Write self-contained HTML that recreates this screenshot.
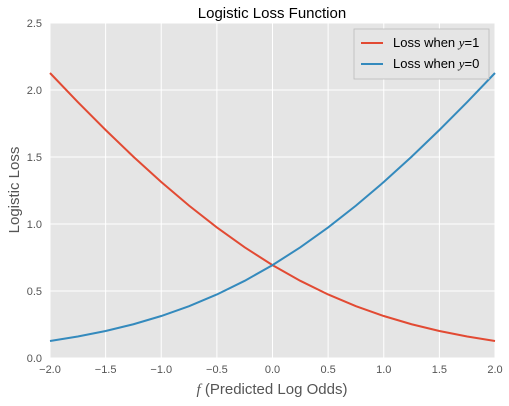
<!DOCTYPE html>
<html><head><meta charset="utf-8"><style>
body{margin:0;background:#fff;}
svg{display:block;font-family:"Liberation Sans",sans-serif;}
</style></head><body>
<svg id="chart" width="509" height="406">
<text x="272" y="18" font-size="15" text-anchor="middle" fill="#000">Logistic Loss Function</text>
<rect x="50" y="23" width="445" height="335" fill="#e5e5e5"/>
<g id="grid"></g><g id="ticks"></g><g id="series"></g>
<text x="272" y="394" font-size="15" text-anchor="middle" fill="#555"><tspan font-family="Liberation Serif" font-style="italic">f</tspan> (Predicted Log Odds)</text>
<text transform="translate(19,190) rotate(-90)" font-size="15" text-anchor="middle" fill="#555">Logistic Loss</text>
<g>
<rect x="354" y="29" width="135" height="50" fill="#e5e5e5" stroke="#bbb" stroke-width="0.8"/>
<line x1="361" y1="43" x2="383" y2="43" stroke="#e24a33" stroke-width="2"/>
<text x="393" y="47" font-size="13" fill="#000">Loss when <tspan font-family="Liberation Serif" font-style="italic">y</tspan>=1</text>
<line x1="361" y1="64" x2="383" y2="64" stroke="#348abd" stroke-width="2"/>
<text x="393" y="68" font-size="13" fill="#000">Loss when <tspan font-family="Liberation Serif" font-style="italic">y</tspan>=0</text>
</g>
</svg>
<script>
const fValues=[-2,-1.75,-1.5,-1.25,-1,-0.75,-0.5,-0.25,0,0.25,0.5,0.75,1,1.25,1.5,1.75,2];
const lossY1=[2.1269,1.9102,1.7014,1.5019,1.3133,1.1369,0.9741,0.8259,0.6931,0.5759,0.4741,0.3869,0.3133,0.2519,0.2014,0.1603,0.1269];
const lossY0=[0.1269,0.1603,0.2014,0.2519,0.3133,0.3869,0.4741,0.5759,0.6931,0.8259,0.9741,1.1369,1.3133,1.5019,1.7014,1.9102,2.1269];
const xTicks=[-2,-1.5,-1,-0.5,0,0.5,1,1.5,2];
const yTicks=[0,0.5,1,1.5,2,2.5];
const X0=50,X1=495,Y0=358,Y1=23;
const sx=v=>X0+(v+2)/4*(X1-X0);
const sy=v=>Y0-v/2.5*(Y0-Y1);
const NS="http://www.w3.org/2000/svg";
function mk(tag,attrs,parent){const e=document.createElementNS(NS,tag);for(const k in attrs)e.setAttribute(k,attrs[k]);document.getElementById(parent).appendChild(e);return e;}
xTicks.forEach(t=>{
 const g=mk('line',{x1:sx(t),x2:sx(t),y1:Y1,y2:Y0,stroke:'#fff','stroke-width':1},'grid');
 
 
 const l=mk('text',{x:sx(t),y:373,'font-size':11,'text-anchor':'middle',fill:'#555'},'ticks');
 l.textContent=t.toFixed(1).replace('-','\u2212');
 
 
});
yTicks.forEach(t=>{
 const g=mk('line',{x1:X0,x2:X1,y1:sy(t),y2:sy(t),stroke:'#fff','stroke-width':1},'grid');
 
 
 const l=mk('text',{x:42,y:sy(t)+4,'font-size':11,'text-anchor':'end',fill:'#555'},'ticks');
 l.textContent=t.toFixed(1);
 
 
});
function line(vals,color,name){
 const d=vals.map((v,i)=>(i?'L':'M')+sx(fValues[i]).toFixed(2)+','+sy(v).toFixed(2)).join(' ');
 const p=mk('path',{d:d,fill:'none',stroke:color,'stroke-width':2},'series');
 
 
}
line(lossY1,'#e24a33','loss-y1-line');
line(lossY0,'#348abd','loss-y0-line');
</script>
</body></html>
